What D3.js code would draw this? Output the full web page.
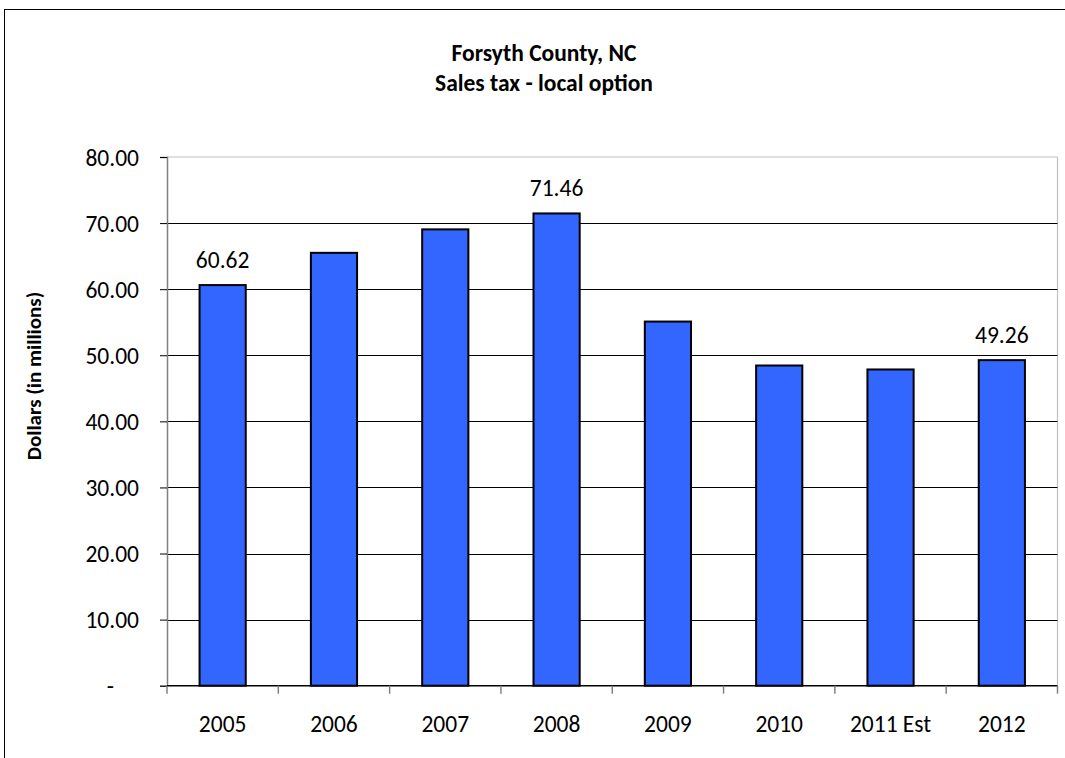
<!DOCTYPE html>
<html><head><meta charset="utf-8">
<script src="https://cdn.jsdelivr.net/npm/d3@7"></script>
<style>
html,body{margin:0;padding:0;background:#fff;}
svg{display:block;}
text{font-family:Calibri,Carlito,Lato,"Open Sans",sans-serif;fill:#000;}
</style></head>
<body>
<script>
const categories = ["2005","2006","2007","2008","2009","2010","2011 Est","2012"];
const values = [60.62, 65.5, 69.05, 71.46, 55.1, 48.45, 47.85, 49.26];
const shownLabels = ["2005","2008","2012"];
const yTicks = [0,10,20,30,40,50,60,70,80];
const titleLines = ["Forsyth County, NC","Sales tax - local option"];
const yTitle = "Dollars (in millions)";

const W = 1065, H = 758;
const svg = d3.select("body").append("svg").attr("width",W).attr("height",H);

// outer chart border
svg.append("rect").attr("x",4.5).attr("y",9.5).attr("width",W+20).attr("height",H+20)
  .attr("fill","none").attr("stroke","#000").attr("stroke-width",1);

const L = 167, R = 1057.5, T = 157, B = 685.7;
const x = d3.scaleBand().domain(categories).range([L,R]).paddingInner(0.585).paddingOuter(0.2925);
const xb = d3.scaleBand().domain(categories).range([L,R]);
const y = d3.scaleLinear().domain([0,80]).range([B,T]);

// plot border (top/right gray)
svg.append("line").attr("x1",L).attr("x2",R).attr("y1",T).attr("y2",T).attr("stroke","#c0c0c0").attr("stroke-width",1.2);
svg.append("line").attr("x1",R).attr("x2",R).attr("y1",T).attr("y2",B).attr("stroke","#c0c0c0").attr("stroke-width",1.2);

// gridlines
svg.append("g").selectAll("line").data(yTicks.filter(d=>d>0 && d<80)).join("line")
  .attr("x1",L).attr("x2",R).attr("y1",d=>Math.round(y(d))+0.5).attr("y2",d=>Math.round(y(d))+0.5)
  .attr("stroke","#000").attr("stroke-width",1);

// y axis
const yAxis = d3.axisLeft(y).tickValues(yTicks).tickSize(7).tickPadding(21)
  .tickFormat(d=> d===0 ? "-" : d3.format(".2f")(d));
const gy = svg.append("g").attr("transform",`translate(${L},0)`).call(yAxis);
gy.select(".domain").attr("stroke","#808080").attr("stroke-width",1.5);
gy.selectAll(".tick line").attr("stroke","#000");
gy.selectAll(".tick text").style("font-size","23.5px").attr("dy","0.35em");
gy.selectAll(".tick").filter(d=>d===0).select("text").attr("dx","-25");

// bars
svg.append("g").selectAll("rect").data(values).join("rect")
  .attr("x",(d,i)=>x(categories[i]))
  .attr("y",d=>y(d))
  .attr("width",x.bandwidth())
  .attr("height",d=>B-y(d))
  .attr("fill","#3366FF").attr("stroke","#000").attr("stroke-width",2);

// x axis
svg.append("line").attr("x1",L).attr("x2",R).attr("y1",B).attr("y2",B).attr("stroke","#000").attr("stroke-width",1.5);
const xticks = categories.map(c=>xb(c)).concat([R]);
svg.append("g").selectAll("line").data(xticks).join("line")
  .attr("x1",d=>d).attr("x2",d=>d).attr("y1",B).attr("y2",B+8).attr("stroke","#808080").attr("stroke-width",1.5);
svg.append("g").selectAll("text").data(categories).join("text")
  .attr("x",d=>xb(d)+xb.bandwidth()/2).attr("y",B+46)
  .attr("text-anchor","middle").style("font-size","23.5px").text(d=>d);

// data labels
svg.append("g").selectAll("text").data(values.map((v,i)=>({c:categories[i],v})).filter(d=>shownLabels.includes(d.c))).join("text")
  .attr("x",d=>x(d.c)+x.bandwidth()/2).attr("y",d=>y(d.v)-17)
  .attr("text-anchor","middle").style("font-size","23.5px").text(d=>d3.format(".2f")(d.v));

// titles
svg.append("g").selectAll("text").data(titleLines).join("text")
  .attr("x",544).attr("y",(d,i)=>60.5+i*30).attr("text-anchor","middle")
  .style("font-size","23.5px").style("font-weight","bold").text(d=>d);

svg.append("text").attr("transform",`translate(41,376) rotate(-90)`)
  .attr("text-anchor","middle").style("font-size","21px").style("font-weight","bold").text(yTitle);
</script>
</body></html>
